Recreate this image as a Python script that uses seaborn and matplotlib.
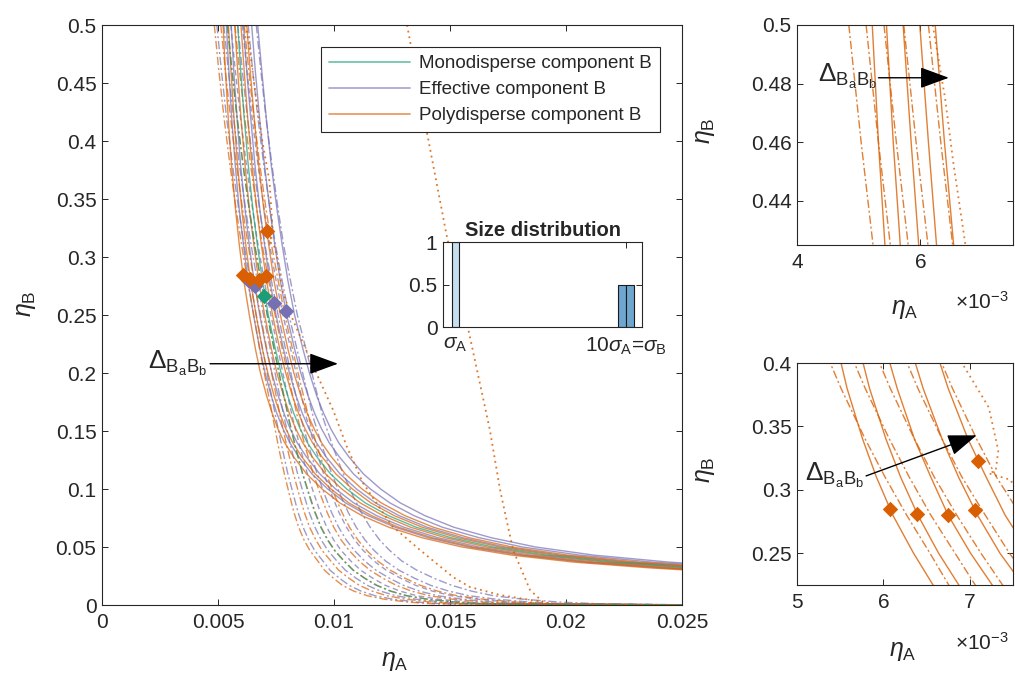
import numpy as np
import pandas as pd
import matplotlib
matplotlib.use('Agg')
import matplotlib.pyplot as plt
import seaborn as sns
from matplotlib.lines import Line2D
from matplotlib.ticker import FuncFormatter, MultipleLocator, FixedLocator

# --- data (eta_A values in units of 1e-3) ---
# eta_B levels shared by the solid curves
eta_b_solid = [0.50, 0.46, 0.42, 0.38, 0.34, 0.31, 0.28, 0.25, 0.22, 0.20, 0.18, 0.165, 0.152,
               0.140, 0.128, 0.113, 0.100, 0.088, 0.077, 0.067, 0.058, 0.050, 0.043, 0.037, 0.032, 0.028]

mono_solid = [5.85, 5.98, 6.13, 6.30, 6.51, 6.70, 6.91, 7.17, 7.48, 7.72, 8.01, 8.27, 8.54,
              8.85, 9.25, 9.85, 10.55, 11.35, 12.35, 13.55, 15.05, 16.85, 19.15, 22.05, 25.65, 29.35]

eff_solid = [
    [5.36, 5.47, 5.59, 5.74, 5.92, 6.10, 6.29, 6.53, 6.81, 7.03, 7.30, 7.54, 7.80, 8.09, 8.47, 9.05, 9.73, 10.50, 11.47, 12.64, 14.07, 15.81, 17.99, 20.71, 24.06, 27.52],
    [5.57, 5.68, 5.82, 5.97, 6.17, 6.35, 6.55, 6.80, 7.09, 7.32, 7.60, 7.85, 8.11, 8.41, 8.80, 9.39, 10.07, 10.85, 11.84, 13.02, 14.48, 16.25, 18.48, 21.27, 24.73, 28.29],
    [6.10, 6.24, 6.41, 6.59, 6.81, 7.01, 7.23, 7.50, 7.83, 8.08, 8.37, 8.64, 8.92, 9.24, 9.65, 10.26, 10.97, 11.79, 12.81, 14.02, 15.55, 17.38, 19.75, 22.74, 26.47, 30.29],
    [6.45, 6.61, 6.79, 7.00, 7.24, 7.45, 7.68, 7.96, 8.31, 8.57, 8.89, 9.17, 9.46, 9.79, 10.22, 10.84, 11.57, 12.41, 13.45, 14.68, 16.26, 18.13, 20.59, 23.71, 27.61, 31.62],
    [6.71, 6.89, 7.08, 7.29, 7.55, 7.77, 8.01, 8.30, 8.67, 8.94, 9.26, 9.56, 9.86, 10.20, 10.63, 11.27, 12.01, 12.86, 13.92, 15.17, 16.78, 18.69, 21.20, 24.43, 28.46, 32.59],
]

poly_solid = [
    [5.22, 5.32, 5.44, 5.58, 5.76, 5.92, 6.11, 6.35, 6.62, 6.83, 7.10, 7.34, 7.58, 7.87, 8.25, 8.82, 9.49, 10.25, 11.21, 12.37, 13.79, 15.52, 17.66, 20.32, 23.61, 27.00],
    [5.45, 5.56, 5.69, 5.84, 6.03, 6.20, 6.40, 6.64, 6.92, 7.15, 7.42, 7.67, 7.92, 8.22, 8.60, 9.19, 9.87, 10.64, 11.62, 12.79, 14.24, 15.99, 18.19, 20.94, 24.34, 27.84],
    [5.72, 5.85, 5.99, 6.16, 6.36, 6.55, 6.75, 7.01, 7.31, 7.54, 7.83, 8.08, 8.35, 8.65, 9.05, 9.64, 10.34, 11.13, 12.12, 13.31, 14.80, 16.58, 18.85, 21.71, 25.24, 28.88],
    [5.99, 6.13, 6.28, 6.46, 6.68, 6.87, 7.09, 7.35, 7.67, 7.92, 8.21, 8.48, 8.75, 9.07, 9.47, 10.08, 10.79, 11.59, 12.60, 13.81, 15.33, 17.15, 19.48, 22.43, 26.10, 29.87],
    [6.24, 6.39, 6.56, 6.75, 6.98, 7.19, 7.41, 7.69, 8.02, 8.27, 8.58, 8.85, 9.14, 9.46, 9.88, 10.49, 11.21, 12.04, 13.06, 14.29, 15.83, 17.68, 20.08, 23.13, 26.92, 30.82],
]

# eta_B levels shared by the dash-dot / dashed curves
eta_b_dd = [0.50, 0.46, 0.42, 0.38, 0.34, 0.31, 0.28, 0.25, 0.22, 0.19, 0.16, 0.135, 0.114, 0.095,
            0.080, 0.067, 0.056, 0.047, 0.038, 0.030, 0.023, 0.017, 0.012, 0.008, 0.005, 0.0025, 0.001, 0.0]

mono_dd = [5.40, 5.60, 5.82, 6.07, 6.35, 6.58, 6.84, 7.12, 7.42, 7.73, 8.05, 8.35, 8.63, 8.92,
           9.17, 9.43, 9.72, 10.02, 10.42, 10.82, 11.32, 11.82, 12.42, 13.12, 14.02, 15.22, 16.52, 26.0]

eff_dd = [
    [4.95, 5.15, 5.37, 5.62, 5.90, 6.13, 6.38, 6.65, 6.93, 7.21, 7.51, 7.77, 8.00, 8.25, 8.45, 8.67, 8.91, 9.17, 9.52, 9.83, 10.24, 10.65, 11.16, 11.77, 12.54, 13.60, 14.72, 26.0],
    [5.25, 5.45, 5.67, 5.92, 6.20, 6.43, 6.69, 6.96, 7.26, 7.56, 7.87, 8.16, 8.42, 8.70, 8.93, 9.18, 9.45, 9.74, 10.12, 10.49, 10.96, 11.43, 12.00, 12.67, 13.53, 14.68, 15.92, 26.0],
    [5.85, 6.05, 6.27, 6.52, 6.80, 7.03, 7.30, 7.59, 7.92, 8.25, 8.59, 8.94, 9.26, 9.60, 9.89, 10.20, 10.53, 10.88, 11.32, 11.81, 12.40, 12.99, 13.68, 14.47, 15.51, 16.84, 18.32, 26.0],
    [6.30, 6.50, 6.72, 6.97, 7.25, 7.48, 7.76, 8.06, 8.41, 8.77, 9.13, 9.52, 9.89, 10.27, 10.61, 10.96, 11.34, 11.73, 12.22, 12.80, 13.48, 14.16, 14.94, 15.82, 16.99, 18.46, 20.12, 26.0],
    [6.65, 6.85, 7.07, 7.32, 7.60, 7.83, 8.12, 8.42, 8.80, 9.17, 9.55, 9.98, 10.38, 10.80, 11.17, 11.56, 11.97, 12.40, 12.92, 13.57, 14.32, 15.07, 15.92, 16.87, 18.15, 19.72, 21.52, 26.0],
]

eff_dashed = [
    [5.55, 5.75, 5.97, 6.22, 6.50, 6.73, 6.99, 7.28, 7.59, 7.90, 8.23, 8.55, 8.84, 9.15, 9.41, 9.69, 9.99, 10.31, 10.72, 11.15, 11.68, 12.21, 12.84, 13.57, 14.52, 15.76, 17.12, 26.0],
    [6.05, 6.25, 6.47, 6.72, 7.00, 7.23, 7.50, 7.80, 8.14, 8.48, 8.83, 9.20, 9.54, 9.90, 10.21, 10.54, 10.89, 11.26, 11.72, 12.25, 12.88, 13.51, 14.24, 15.07, 16.17, 17.56, 19.12, 26.0],
]

poly_dd = [
    [4.84, 5.04, 5.26, 5.51, 5.79, 6.02, 6.27, 6.54, 6.80, 7.09, 7.38, 7.62, 7.85, 8.08, 8.27, 8.48, 8.71, 8.96, 9.30, 9.59, 9.98, 10.36, 10.85, 11.44, 12.17, 13.20, 14.28, 26.0],
    [5.12, 5.32, 5.54, 5.79, 6.07, 6.30, 6.55, 6.83, 7.11, 7.41, 7.71, 7.99, 8.24, 8.50, 8.72, 8.95, 9.22, 9.49, 9.86, 10.20, 10.65, 11.09, 11.64, 12.28, 13.10, 14.21, 15.40, 26.0],
    [5.41, 5.61, 5.83, 6.08, 6.36, 6.59, 6.85, 7.13, 7.43, 7.74, 8.06, 8.36, 8.64, 8.94, 9.19, 9.45, 9.74, 10.04, 10.44, 10.84, 11.34, 11.85, 12.45, 13.15, 14.05, 15.26, 16.56, 26.0],
    [5.73, 5.93, 6.15, 6.40, 6.68, 6.91, 7.18, 7.46, 7.78, 8.11, 8.45, 8.78, 9.09, 9.42, 9.70, 9.99, 10.31, 10.65, 11.08, 11.55, 12.11, 12.68, 13.34, 14.11, 15.11, 16.41, 17.84, 26.0],
    [6.13, 6.33, 6.55, 6.80, 7.08, 7.31, 7.59, 7.88, 8.22, 8.57, 8.93, 9.30, 9.65, 10.02, 10.34, 10.67, 11.03, 11.41, 11.88, 12.43, 13.07, 13.72, 14.46, 15.31, 16.43, 17.85, 19.44, 26.0],
]

# dotted polydisperse curves
dot_steep_x = [13.15, 14.01, 14.87, 15.73, 16.72, 17.16, 17.72, 18.45, 19.01, 19.60]
dot_steep_y = [0.50, 0.4069, 0.3172, 0.2431, 0.1509, 0.0991, 0.0474, 0.0129, 0.0026, 0.0]
dot_side_x = [6.20, 6.40, 6.54, 6.73, 6.91, 7.22, 7.33, 7.30, 7.22, 7.47, 7.80, 8.23, 9.18,
              9.96, 10.56, 11.25, 12.50, 13.71, 15.13, 15.86, 17.16, 19.01]
dot_side_y = [0.50, 0.475, 0.452, 0.425, 0.400, 0.365, 0.331, 0.315, 0.313, 0.308, 0.269, 0.2457,
              0.2026, 0.1681, 0.1362, 0.1052, 0.0681, 0.0474, 0.0241, 0.0155, 0.0086, 0.0026]

# diamond markers
mono_mark_x = [6.98]
mono_mark_y = [0.2664]
eff_mark_x = [6.29, 6.59, 7.41, 7.93]
eff_mark_y = [0.280, 0.275, 0.260, 0.2535]
poly_mark_x = [6.08, 6.39, 6.75, 7.06, 7.10]
poly_mark_y = [0.2847, 0.2807, 0.280, 0.2839, 0.3226]

# size distribution inset
size_pos = [1, 9.8, 10.2]
size_frac = [1.0, 0.5, 0.5]
size_colors = ['#c6deee', '#6fa6cf', '#6fa6cf']
size_ticklabels = [r'$\sigma_\mathrm{A}$', r'$10\sigma_\mathrm{A}$=$\sigma_\mathrm{B}$']

legend_labels = ['Monodisperse component B', 'Effective component B', 'Polydisperse component B']

# --- style ---
sns.set_theme(style='ticks')
plt.rcParams['font.family'] = ['Liberation Sans', 'DejaVu Sans']
plt.rcParams.update({
    'mathtext.fontset': 'custom',
    'mathtext.rm': 'Liberation Sans',
    'mathtext.it': 'Liberation Sans:italic',
    'mathtext.bf': 'Liberation Sans:bold',
    'axes.edgecolor': '#262626',
    'axes.linewidth': 0.8,
    'xtick.direction': 'in', 'ytick.direction': 'in',
    'xtick.top': True, 'ytick.right': True,
    'xtick.bottom': True, 'ytick.left': True,
    'xtick.color': '#262626', 'ytick.color': '#262626',
    'xtick.major.size': 4, 'ytick.major.size': 4,
    'xtick.major.width': 0.7, 'ytick.major.width': 0.7,
    'xtick.labelsize': 15, 'ytick.labelsize': 15,
    'xtick.major.pad': 6, 'ytick.major.pad': 4,
})

GREEN, PURPLE, ORANGE = '#1b9e77', '#7570b3', '#d95f02'
palette = {'Monodisperse': GREEN, 'Effective': PURPLE, 'Polydisperse': ORANGE}
dashes = {'solid': '', 'dashdot': (6, 2, 1.5, 2), 'dashed': (4, 2.5)}
DOTS = (1, 2.2)

# long table of all curves
rows = []


def add_curves(component, kind, xs_list, ys, tag=''):
    for i, xs in enumerate(xs_list):
        for x, y in zip(xs, ys):
            rows.append((component, kind, f'{component}-{kind}{tag}-{i}', x * 1e-3, y))


add_curves('Effective', 'solid', eff_solid, eta_b_solid)
add_curves('Effective', 'dashdot', eff_dd, eta_b_dd)
add_curves('Effective', 'dashed', eff_dashed, eta_b_dd)
add_curves('Polydisperse', 'solid', poly_solid, eta_b_solid)
add_curves('Polydisperse', 'dashdot', poly_dd, eta_b_dd)
add_curves('Polydisperse', 'dotted', [dot_steep_x], dot_steep_y, tag='steep')
add_curves('Polydisperse', 'dotted', [dot_side_x], dot_side_y, tag='side')
add_curves('Monodisperse', 'solid', [mono_solid], eta_b_solid)
add_curves('Monodisperse', 'dashdot', [mono_dd], eta_b_dd)
curves = pd.DataFrame(rows, columns=['component', 'kind', 'curve', 'eta_A', 'eta_B'])
lines = curves[curves['kind'] != 'dotted']
dotted = curves[curves['kind'] == 'dotted']

fig = plt.figure(figsize=(10.15, 6.82), dpi=100)
ax = fig.add_axes([0.1005, 0.1129, 0.5714, 0.8504])
ax_top = fig.add_axes([0.7852, 0.6408, 0.2128, 0.3226])
ax_bot = fig.add_axes([0.7852, 0.1422, 0.2128, 0.3255])

# main panel
sns.lineplot(data=lines, x='eta_A', y='eta_B', hue='component', style='kind', units='curve',
             estimator=None, sort=False, palette=palette, dashes=dashes,
             hue_order=['Effective', 'Polydisperse', 'Monodisperse'], legend=False,
             lw=1.0, alpha=0.7, ax=ax)
sns.lineplot(data=dotted, x='eta_A', y='eta_B', units='curve', estimator=None, sort=False,
             color=ORANGE, lw=1.3, alpha=0.85, dashes=False, legend=False, ax=ax)
for ln in ax.get_lines()[-2:]:
    ln.set_dashes(DOTS)

for mx, my, col in [(eff_mark_x, eff_mark_y, PURPLE), (poly_mark_x, poly_mark_y, ORANGE),
                    (mono_mark_x, mono_mark_y, GREEN)]:
    sns.scatterplot(x=np.array(mx) * 1e-3, y=my, marker='D', s=62, color=col,
                    linewidth=0, zorder=5, ax=ax)

ax.set_xlim(0, 0.025)
ax.set_ylim(0, 0.5)
ax.xaxis.set_major_locator(MultipleLocator(0.005))
ax.yaxis.set_major_locator(MultipleLocator(0.05))
ax.xaxis.set_major_formatter(FuncFormatter(lambda v, _: f'{v:g}'))
ax.yaxis.set_major_formatter(FuncFormatter(lambda v, _: f'{v:g}'))
ax.set_xlabel(r'$\eta_\mathrm{A}$', fontsize=18, color='#262626')
ax.set_ylabel(r'$\eta_\mathrm{B}$', fontsize=18, color='#262626')
ax.xaxis.set_label_coords(0.505, -0.075)
ax.yaxis.set_label_coords(-0.11, 0.52)

handles = [Line2D([], [], color=c, lw=1.3, alpha=0.6) for c in (GREEN, PURPLE, ORANGE)]
leg = ax.legend(handles, legend_labels, loc='upper right', bbox_to_anchor=(0.962, 0.962),
                borderaxespad=0, fontsize=13.5, handlelength=4.3, handletextpad=0.5,
                labelspacing=0.48, borderpad=0.42, fancybox=False, framealpha=1,
                edgecolor='#262626')
leg.get_frame().set_linewidth(0.8)

arrow_kw = dict(arrowstyle='-|>,head_length=1.5,head_width=0.55', color='black', lw=1.0,
                shrinkA=0, shrinkB=0)
delta_txt = r'$\Delta_{\mathrm{B}_\mathrm{a}\mathrm{B}_\mathrm{b}}$'
ax.annotate('', xy=(0.01017, 0.208), xytext=(0.00466, 0.208), arrowprops=arrow_kw)
ax.text(0.00455, 0.204, delta_txt, fontsize=19, ha='right', va='baseline')

# zoomed panels: polydisperse only
poly_lines = lines[lines['component'] == 'Polydisperse']
for a in (ax_top, ax_bot):
    sns.lineplot(data=poly_lines, x='eta_A', y='eta_B', style='kind', units='curve', estimator=None,
                 sort=False, color=ORANGE, dashes=dashes, legend=False, lw=1.0, alpha=0.8, ax=a)
    sns.lineplot(data=dotted, x='eta_A', y='eta_B', units='curve', estimator=None, sort=False,
                 color=ORANGE, lw=1.3, alpha=0.8, dashes=False, legend=False, ax=a)
    for ln in a.get_lines()[-2:]:
        ln.set_dashes(DOTS)
    a.xaxis.set_major_formatter(FuncFormatter(lambda v, _: f'{v * 1e3:g}'))
    a.set_xlabel(r'$\eta_\mathrm{A}$', fontsize=18, color='#262626')
    a.set_ylabel(r'$\eta_\mathrm{B}$', fontsize=18, color='#262626')

sns.scatterplot(x=np.array(poly_mark_x) * 1e-3, y=poly_mark_y, marker='D', s=62, color=ORANGE,
                linewidth=0, zorder=5, ax=ax_bot)

ax_top.set_xlim(0.004, 0.0075)
ax_top.set_ylim(0.425, 0.5)
ax_top.xaxis.set_major_locator(FixedLocator([0.004, 0.006]))
ax_top.yaxis.set_major_locator(FixedLocator([0.44, 0.46, 0.48, 0.5]))
ax_top.yaxis.set_major_formatter(FuncFormatter(lambda v, _: f'{v:g}'))
ax_top.xaxis.set_label_coords(0.5, -0.235)
ax_top.yaxis.set_label_coords(-0.37, 0.52)
ax_top.annotate('', xy=(0.00646, 0.482), xytext=(0.00532, 0.482), arrowprops=arrow_kw)
ax_top.text(0.0053, 0.4805, delta_txt, fontsize=19, ha='right', va='baseline')

ax_bot.set_xlim(0.005, 0.0075)
ax_bot.set_ylim(0.225, 0.4)
ax_bot.xaxis.set_major_locator(FixedLocator([0.005, 0.006, 0.007]))
ax_bot.yaxis.set_major_locator(FixedLocator([0.25, 0.3, 0.35, 0.4]))
ax_bot.yaxis.set_major_formatter(FuncFormatter(lambda v, _: f'{v:g}'))
ax_bot.xaxis.set_label_coords(0.49, -0.245)
ax_bot.yaxis.set_label_coords(-0.37, 0.52)
ax_bot.annotate('', xy=(0.00708, 0.343), xytext=(0.0058, 0.311), arrowprops=arrow_kw)
ax_bot.text(0.00578, 0.307, delta_txt, fontsize=19, ha='right', va='baseline')

for yy in (0.557, 0.057):
    fig.text(0.941, yy, r'$\times10^{-3}$', fontsize=15, color='#262626', va='center')

# size distribution inset
ax_in = fig.add_axes([0.4365, 0.5205, 0.1961, 0.1246])
ax_in.bar(size_pos, size_frac, width=0.4, color=size_colors, edgecolor='#1a1a1a', linewidth=0.8)
ax_in.set_xlim(0.34, 10.85)
ax_in.set_ylim(0, 1)
ax_in.set_xticks([1, 10])
ax_in.set_xticklabels(size_ticklabels)
ax_in.set_yticks([0, 0.5, 1])
ax_in.yaxis.set_major_formatter(FuncFormatter(lambda v, _: f'{v:g}'))
ax_in.set_title('Size distribution', fontsize=14.5, fontweight='bold', pad=4)

fig.savefig('out.png', dpi=100)
